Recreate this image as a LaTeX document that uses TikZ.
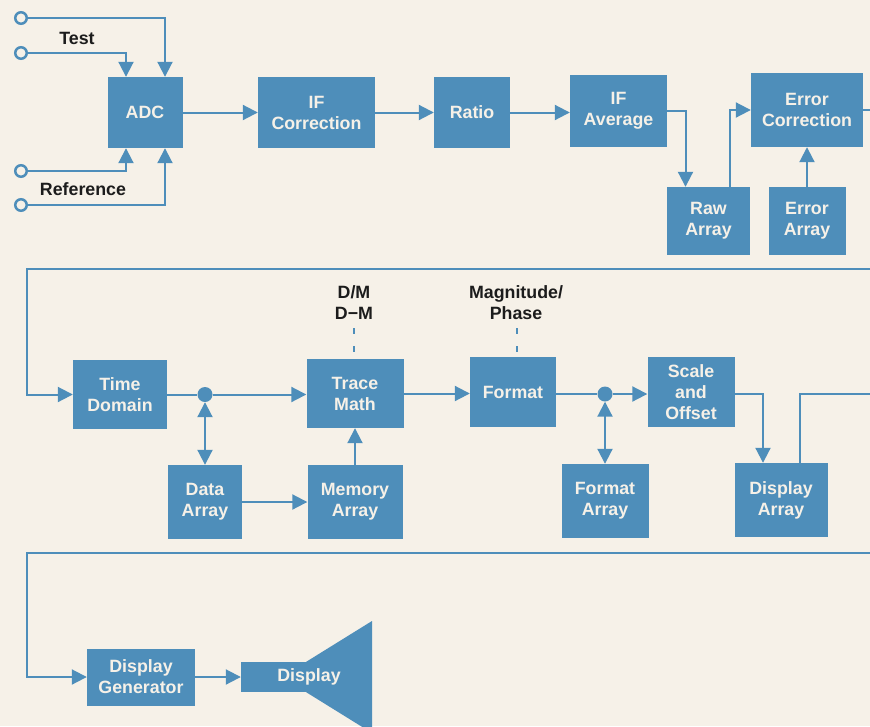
\documentclass[tikz,border=0pt]{standalone}
\usepackage{fontspec}
\setmainfont{Liberation Sans}
\usetikzlibrary{arrows.meta}

\definecolor{hpblue}{RGB}{78,142,186}
\definecolor{paper}{RGB}{246,241,232}
\definecolor{ink}{RGB}{28,28,28}

\tikzset{
  blk/.style={fill=hpblue, text=paper, align=center, inner sep=0pt,
    font=\bfseries\fontsize{17.8}{21}\selectfont},
  lbl/.style={text=ink, align=center, inner sep=0pt,
    font=\bfseries\fontsize{17.8}{21}\selectfont},
  wire/.style={hpblue, line width=2pt},
  flow/.style={wire, -{Triangle[length=15pt,width=15pt]}},
  both/.style={wire, {Triangle[length=15pt,width=15pt]}-{Triangle[length=15pt,width=15pt]}},
  term/.style={circle, draw=hpblue, line width=2.5pt, fill=paper, minimum size=11.5pt, inner sep=0pt},
  dot/.style={circle, fill=hpblue, minimum size=15pt, inner sep=0pt},
  tick/.style={hpblue, line width=1.5pt, dash pattern=on 6pt off 12pt},
}

\begin{document}
\begin{tikzpicture}[x=1pt, y=-1pt]
    % Paper
    \fill[paper] (0,0) rectangle (870,726);
    \useasboundingbox (0,0) rectangle (870,726);

    % Inputs
    \node[term] (t1) at (21,18) {};
    \node[term] (t2) at (21,53) {};
    \node[term] (r1) at (21,171) {};
    \node[term] (r2) at (21,205) {};
    \node[lbl] (test) at (77,38) {Test};
    \node[lbl] (ref) at (83,189) {Reference};

    % First row
    \node[blk, minimum width=75pt, minimum height=71pt] (adc) at (145,112.5) {ADC};
    \node[blk, minimum width=117pt, minimum height=71pt] (ifc) at (316.5,112.5) {IF\\Correction};
    \node[blk, minimum width=76pt, minimum height=71pt] (ratio) at (472,112.5) {Ratio};
    \node[blk, minimum width=97pt, minimum height=72pt] (ifa) at (618.5,111) {IF\\Average};
    \node[blk, minimum width=83pt, minimum height=68pt] (raw) at (708.5,221) {Raw\\Array};
    \node[blk, minimum width=112pt, minimum height=74pt] (errc) at (807,110) {Error\\Correction};
    \node[blk, minimum width=77pt, minimum height=68pt] (erra) at (807,221) {Error\\Array};

    \draw[flow] (t1) -| ([xshift=20pt]adc.north);
    \draw[flow] (t2) -| ([xshift=-19pt]adc.north);
    \draw[flow] (r1) -| ([xshift=-19pt]adc.south);
    \draw[flow] (r2) -| ([xshift=20pt]adc.south);
    \draw[flow] (adc) -- (ifc);
    \draw[flow] (ifc) -- (ratio);
    \draw[flow] (ratio.east) -- (ratio.east -| ifa.west);
    \draw[flow] (ifa.east) -| ([xshift=-23pt]raw.north);
    \draw[flow] ([xshift=21pt]raw.north) |- (errc.west);
    \draw[flow] (erra) -- (errc);
    \coordinate (outA) at (870,110);
    \draw[wire] (errc.east) -- (outA);

    % Second row
    \node[blk, minimum width=94pt, minimum height=69pt] (time) at (120,394.5) {Time\\Domain};
    \node[dot] (dot1) at (205,394.5) {};
    \node[blk, minimum width=97pt, minimum height=69pt] (trace) at (355,393.5) {Trace\\Math};
    \node[blk, minimum width=74pt, minimum height=74pt] (data) at (205,502) {Data\\Array};
    \node[blk, minimum width=95pt, minimum height=74pt] (mem) at (355,502) {Memory\\Array};
    \node[blk, minimum width=86pt, minimum height=70pt] (fmt) at (513,392) {Format};
    \node[dot] (dot2) at (605,394) {};
    \node[blk, minimum width=87pt, minimum height=74pt] (fmta) at (605,501) {Format\\Array};
    \node[blk, minimum width=87pt, minimum height=70pt] (scale) at (691,392) {Scale\\and\\Offset};
    \node[blk, minimum width=93pt, minimum height=74pt] (dispa) at (781,500) {Display\\Array};

    % Dashed selector marks
    \node[lbl] (dm) at (354,302.5) {D/M\\D−M};
    \node[lbl] (mag) at (516,303) {Magnitude/\\Phase};
    \draw[tick] ([xshift=-1pt,yshift=7pt]trace.north) -- ++(0,-24);
    \draw[tick] ([xshift=4pt,yshift=5pt]fmt.north) -- ++(0,-24);

    \coordinate (inB) at (870,269);
    \coordinate (turnB) at (27,269);
    \draw[flow] (inB) -- (turnB) |- (time.west);
    \draw[wire] (time) -- (dot1);
    \draw[flow] (dot1) -- (dot1 -| trace.west);
    \draw[both] (dot1) -- (dot1 |- data.north);
    \draw[flow] (data) -- (mem);
    \draw[flow] (mem) -- (trace);
    \draw[flow] (trace.east) -- (trace.east -| fmt.west);
    \draw[wire] (fmt.east |- dot2) -- (dot2);
    \draw[flow] (dot2) -- (dot2 -| scale.west);
    \draw[both] (dot2) -- (fmta);
    \draw[flow] ([yshift=-2pt]scale.east) -| ([xshift=-18pt]dispa.north);
    \coordinate (outB) at (870,394);
    \draw[wire] ([xshift=19pt]dispa.north) |- (outB);

    % Third row
    \node[blk, minimum width=108pt, minimum height=57pt] (dgen) at (141,677) {Display\\Generator};
    \node[blk, minimum width=66pt, minimum height=30pt] (disp) at (274,677) {};
    \fill[hpblue] ([xshift=-1pt]disp.north east) -- (372,621) -- (372,733)
        -- ([xshift=-1pt]disp.south east) -- cycle;
    \node[blk, fill=none] (disptxt) at (309,677) {Display};

    \coordinate (inC) at (870,553);
    \coordinate (turnC) at (27,553);
    \draw[flow] (inC) -- (turnC) |- (dgen.west);
    \draw[flow] (dgen) -- (disp);
\end{tikzpicture}
\end{document}
